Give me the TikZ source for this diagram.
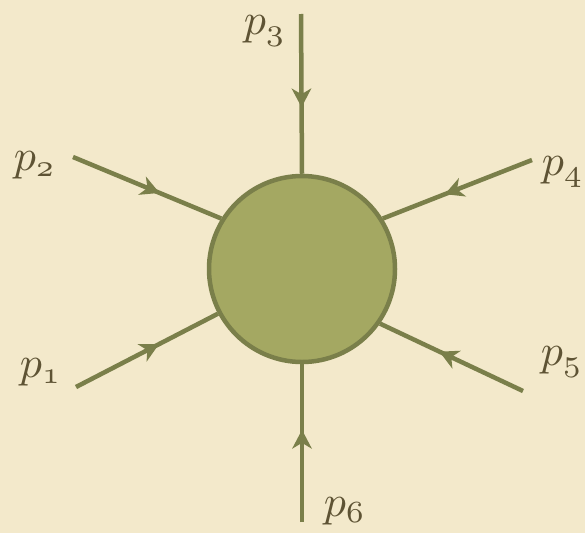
\documentclass[tikz,border=0pt]{standalone}
\usetikzlibrary{decorations.markings}
\definecolor{bgc}{HTML}{F3E9CB}
\definecolor{linec}{HTML}{7A7F4A}
\definecolor{fillc}{HTML}{A4A862}
\definecolor{textc}{HTML}{5E5334}
\tikzset{
  blobstyle/.style={circle,draw=linec,fill=fillc,line width=4.5pt,minimum size=186pt,inner sep=0pt},
  fermion/.style={draw=linec,line width=4.5pt,
    postaction={decorate,decoration={markings,
      mark=at position 0.565 with {\fill[linec] (3pt,0pt) -- (-16pt,10pt) -- (-10pt,0pt) -- (-16pt,-10pt) -- cycle;}}}},
  lbl/.style={text=textc,scale=4.4,inner sep=0pt}
}
\begin{document}
\begin{tikzpicture}[x=1pt,y=-1pt]
\useasboundingbox[fill=bgc] (0,0) rectangle (585,533);
\node[blobstyle] (blob) at (302,269) {};
\coordinate (a1) at (76,387);
\coordinate (a2) at (73,157);
\coordinate (a3) at (301,14);
\coordinate (a4) at (532,160);
\coordinate (a5) at (523,391);
\coordinate (a6) at (302,522);
\draw[fermion] (a1) -- (blob.208);
\draw[fermion] (a2) -- (blob.148);
\draw[fermion] (a3) -- (blob.90);
\draw[fermion] (a4) -- (blob.32);
\draw[fermion] (a5) -- (blob.325);
\draw[fermion] (a6) -- (blob.270);
\node[lbl] (l1) at (41,372) {$p_{\mathnormal{1}}$};
\node[lbl] (l2) at (35,165) {$p_{\mathnormal{2}}$};
\node[lbl] (l3) at (265,31) {$p_{\mathnormal{3}}$};
\node[lbl] (l4) at (563,172) {$p_{\mathnormal{4}}$};
\node[lbl] (l5) at (562,362) {$p_{\mathnormal{5}}$};
\node[lbl] (l6) at (345,511) {$p_{\mathnormal{6}}$};
\end{tikzpicture}
\end{document}
